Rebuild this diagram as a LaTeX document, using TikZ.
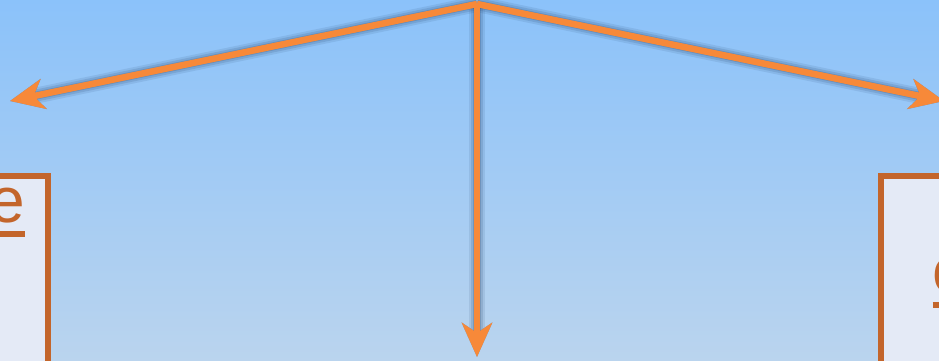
\documentclass[tikz,border=0pt]{standalone}
\usepackage{fontspec}
\setmainfont{Liberation Sans}
\usetikzlibrary{arrows.meta}
\definecolor{skytop}{RGB}{139,194,250}
\definecolor{skybottom}{RGB}{186,212,238}
\definecolor{flow}{RGB}{247,137,57}
\definecolor{frame}{RGB}{195,101,43}
\definecolor{panel}{RGB}{228,234,246}
\definecolor{dropshade}{RGB}{30,60,100}
\begin{document}
\begin{tikzpicture}[x=1pt,y=-1pt]
    \tikzset{flow arrow/.style={draw=flow, line width=6.5pt,
                -{Stealth[length=34pt,width=30pt,inset=10pt]}},
             panel box/.style={draw=frame, fill=panel, line width=6pt, inner sep=0pt},
             link text/.style={text=frame, font=\fontsize{64}{72}\selectfont, inner sep=0pt}}

    \useasboundingbox (0,0) rectangle (939,361);
    \clip (0,0) rectangle (939,361);
    \shade[top color=skytop, bottom color=skybottom] (0,0) rectangle (939,361);

    % side panels
    \node[panel box, anchor=north east, minimum width=160pt, minimum height=240pt]
        (leftpanel) at (50.5,172.5) {};
    \node[panel box, anchor=north west, minimum width=160pt, minimum height=240pt]
        (rightpanel) at (877.5,172.5) {};

    \node[link text, anchor=base east] (lefttext) at (25,222) {e};
    \draw[frame, line width=6pt]
        ([yshift=-12pt]lefttext.base west) -- ([yshift=-12pt]lefttext.base east);
    \node[link text, anchor=base west] (righttext) at (932.5,292.5) {c};
    \draw[frame, line width=6pt]
        ([yshift=-12pt]righttext.base west) -- ([yshift=-12pt]righttext.base east);

    % arrows from the top
    \coordinate (apex) at (477,4);
    \coordinate (lefttip) at (10,101);
    \coordinate (downtip) at (477,357);
    \coordinate (righttip) at (944,101);

    \foreach \w/\op in {16/0.10, 12/0.14, 8/0.2}
        \foreach \tip in {lefttip,downtip,righttip}
            \draw[flow arrow, draw=dropshade, fill=dropshade, line width=\w pt, opacity=\op,
                  shift={(3,7)}] (apex) -- (\tip);

    \foreach \tip in {lefttip,downtip,righttip}
        \draw[flow arrow] (apex) -- (\tip);
\end{tikzpicture}
\end{document}
